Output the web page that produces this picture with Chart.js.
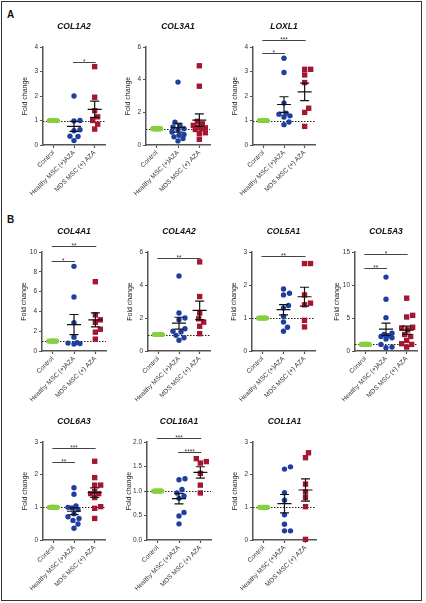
<!DOCTYPE html>
<html>
<head>
<meta charset="utf-8">
<script src="https://cdn.jsdelivr.net/npm/chart.js@4.4.0/dist/chart.umd.min.js"></script>
<style>
  body { margin: 0; background: #fff; }
  #fig { position: relative; width: 426px; height: 603px; overflow: hidden; font-family: 'Liberation Sans', Arial, sans-serif; }
  #frame { position: absolute; left: 1px; top: 1px; width: 419px; height: 598px; border: 1px solid #333; }
  .tag { position: absolute; font-weight: bold; font-size: 10px; line-height: 10px; color: #111; }
  canvas { position: absolute; }
</style>
</head>
<body>
<div id="fig">
  <div id="frame"></div>
  <div class="tag" style="left:7px; top:10px;">A</div>
  <div class="tag" style="left:7px; top:215px;">B</div>
</div>

<script>
// --- DATA ---
const groups = ['Control', 'Healthy MSC (+)AZA', 'MDS MSC (+) AZA'];
const genes = ['COL1A2', 'COL3A1', 'LOXL1', 'COL4A1', 'COL4A2', 'COL5A1', 'COL5A3', 'COL6A3', 'COL16A1', 'COL1A1'];

// y axis range per gene (tick labels)
const yMax  = [4, 6, 4, 10, 6, 3, 15, 3, 2, 3];
const yStep = [1, 2, 1, 2, 2, 1, 5, 1, 0.5, 1];
const yDecimals = [0, 0, 0, 0, 0, 0, 0, 0, 1, 0];

// fold change values per gene, one array per group
const col1a2Control = [1, 1, 1, 1, 1, 1, 1, 1];
const col1a2Healthy = [2.0, 1.0, 0.98, 0.62, 0.58, 0.36, 0.35, 0.18];
const col1a2Mds     = [3.2, 1.95, 1.4, 1.15, 1.0, 0.85, 0.65];

const col3a1Control = [1, 1, 1, 1, 1, 1, 1, 1, 1, 1, 1, 1];
const col3a1Healthy = [3.85, 1.4, 1.2, 1.1, 1.0, 0.95, 0.8, 0.65, 0.6, 0.5, 0.4, 0.25];
const col3a1Mds     = [4.85, 3.6, 1.45, 1.3, 1.2, 1.1, 1.05, 1.0, 0.95, 0.75, 0.7, 0.35];

const loxl1Control = [1, 1, 1, 1, 1, 1, 1, 1, 1];
const loxl1Healthy = [3.54, 2.96, 1.71, 1.3, 1.26, 1.19, 1.14, 0.94, 0.83];
const loxl1Mds     = [3.09, 3.09, 2.86, 2.55, 1.5, 1.33, 0.76];

const col4a1Control = [1, 1, 1, 1, 1, 1, 1, 1];
const col4a1Healthy = [8.55, 5.45, 2.85, 1.4, 0.85, 0.8, 0.75, 0.7];
const col4a1Mds     = [7.0, 3.65, 3.15, 2.9, 2.2, 1.9, 1.2];

const col4a2Control = [1, 1, 1, 1, 1, 1, 1, 1, 1, 1];
const col4a2Healthy = [4.55, 2.3, 2.0, 1.9, 1.35, 1.2, 1.15, 0.95, 0.8, 0.65];
const col4a2Mds     = [5.4, 3.3, 2.3, 1.95, 1.75, 1.5, 1.05];

const col5a1Control = [1, 1, 1, 1, 1, 1, 1, 1, 1];
const col5a1Healthy = [1.88, 1.75, 1.7, 1.38, 1.3, 1.05, 0.88, 0.72, 0.6];
const col5a1Mds     = [2.65, 2.65, 1.7, 1.45, 1.4, 0.93, 0.73];

const col5a3Control = [1, 1, 1, 1, 1, 1, 1, 1, 1, 1, 1, 1];
const col5a3Healthy = [11.2, 7.85, 5.05, 2.7, 2.5, 2.3, 2.2, 2.0, 1.8, 1.0, 0.6, 0.5];
const col5a3Mds     = [8.0, 5.4, 5.15, 3.6, 3.5, 3.2, 2.5, 2.2, 1.6, 1.1, 1.0, 0.6];

const col6a3Control = [1, 1, 1, 1, 1, 1, 1, 1, 1, 1, 1, 1];
const col6a3Healthy = [1.6, 1.4, 1.04, 1.0, 0.98, 0.93, 0.8, 0.71, 0.66, 0.6, 0.49, 0.36];
const col6a3Mds     = [2.41, 1.91, 1.68, 1.68, 1.48, 1.42, 1.42, 1.3, 1.02, 0.97, 0.66];

const col16a1Control = [1, 1, 1, 1, 1, 1, 1, 1, 1];
const col16a1Healthy = [1.25, 1.23, 1.03, 0.96, 0.9, 0.85, 0.56, 0.49, 0.33];
const col16a1Mds     = [1.66, 1.6, 1.57, 1.36, 1.12, 0.96];

const col1a1Control = [1, 1, 1, 1, 1, 1, 1, 1];
const col1a1Healthy = [2.24, 2.17, 1.45, 1.22, 0.77, 0.48, 0.28, 0.28];
const col1a1Mds     = [2.67, 2.52, 1.71, 1.47, 1.3, 1.02, 0.02];

const values = [
  [col1a2Control, col1a2Healthy, col1a2Mds],
  [col3a1Control, col3a1Healthy, col3a1Mds],
  [loxl1Control, loxl1Healthy, loxl1Mds],
  [col4a1Control, col4a1Healthy, col4a1Mds],
  [col4a2Control, col4a2Healthy, col4a2Mds],
  [col5a1Control, col5a1Healthy, col5a1Mds],
  [col5a3Control, col5a3Healthy, col5a3Mds],
  [col6a3Control, col6a3Healthy, col6a3Mds],
  [col16a1Control, col16a1Healthy, col16a1Mds],
  [col1a1Control, col1a1Healthy, col1a1Mds]
];

// significance brackets: [from group, to group, height (fold change), stars]
const significance = [
  [[1, 2, 3.4, '*']],
  [],
  [[0, 2, 4.29, '***'], [0, 1, 3.76, '*']],
  [[0, 2, 10.6, '**'], [0, 1, 9.1, '*']],
  [[0, 2, 5.64, '**']],
  [[0, 2, 2.88, '**']],
  [[0, 2, 14.7, '*'], [0, 1, 12.6, '**']],
  [[0, 2, 2.81, '***'], [0, 1, 2.39, '**']],
  [[0, 2, 2.08, '***'], [1, 2, 1.8, '****']],
  []
];

// --- LAYOUT (pixel placement of each panel) ---
const panels = [
  { axisX: 43,  yTop: 47,  plotH: 98, xEnd: 105 },
  { axisX: 146, yTop: 47,  plotH: 98, xEnd: 210 },
  { axisX: 253, yTop: 47,  plotH: 98, xEnd: 315 },
  { axisX: 42,  yTop: 252, plotH: 99, xEnd: 106 },
  { axisX: 148, yTop: 252, plotH: 99, xEnd: 210 },
  { axisX: 252, yTop: 252, plotH: 99, xEnd: 315 },
  { axisX: 355, yTop: 252, plotH: 99, xEnd: 417 },
  { axisX: 43,  yTop: 442, plotH: 98, xEnd: 105 },
  { axisX: 147, yTop: 442, plotH: 98, xEnd: 211 },
  { axisX: 253, yTop: 442, plotH: 98, xEnd: 316 }
];
const AXIS_W = 40, TOP_PAD = 42, RIGHT_PAD = 12, X_AXIS_H = 60;

const colors = ['#86cf3e', '#1f3f9f', '#a51631'];
const pointStyles = ['circle', 'circle', 'rect'];
const pointRadii = [2.6, 2.7, 3.8];
const swarmWidth = [4, 6, 6];   // max horizontal spread (px) per group
const FONT = "'Liberation Sans', Arial, sans-serif";

// simple beeswarm: horizontal pixel offsets so that dots with close values sit side by side
function swarmOffsets(vals, pxPerUnit, maxOff) {
  const placed = [];
  const offs = new Array(vals.length).fill(0);
  const cands = [0];
  for (let k = 1; k <= maxOff; k++) cands.push(k, -k);
  const order = vals.map((v, i) => i).sort((a, b) => vals[a] - vals[b]);
  order.forEach(i => {
    const py = vals[i] * pxPerUnit;
    let best = 0, bestDist = -1;
    for (const c of cands) {
      let m = Infinity;
      placed.forEach(p => { m = Math.min(m, Math.hypot(p.x - c, p.y - py)); });
      if (m >= 5.5) { best = c; break; }
      if (m > bestDist) { bestDist = m; best = c; }
    }
    placed.push({ x: best, y: py });
    offs[i] = best;
  });
  return offs;
}

function meanSem(arr) {
  const n = arr.length;
  const mean = arr.reduce((s, v) => s + v, 0) / n;
  const sd = Math.sqrt(arr.reduce((s, v) => s + (v - mean) * (v - mean), 0) / (n - 1));
  return [mean, sd / Math.sqrt(n)];
}

// draws reference line, mean ± SEM, brackets and gene title
const panelPlugin = {
  id: 'panel',
  beforeDatasetsDraw(chart, args, opts) {
    const { ctx, chartArea, scales: { y } } = chart;
    const py = Math.round(y.getPixelForValue(1)) + 0.5;
    ctx.save();
    ctx.strokeStyle = '#222';
    ctx.lineWidth = 1;
    ctx.setLineDash([1.5, 1.5]);
    ctx.beginPath();
    ctx.moveTo(chartArea.left, py);
    ctx.lineTo(chartArea.right, py);
    ctx.stroke();
    ctx.restore();
  },
  afterDatasetsDraw(chart, args, opts) {
    const { ctx, chartArea, scales: { x, y } } = chart;
    ctx.save();
    // mean and SEM for treated groups
    ctx.strokeStyle = '#111';
    ctx.lineWidth = 1.2;
    [1, 2].forEach(g => {
      const [m, sem] = meanSem(opts.groupValues[g]);
      const cx = x.getPixelForValue(g + 0.5);
      const pm = y.getPixelForValue(m);
      const ph = y.getPixelForValue(m + sem);
      const pl = y.getPixelForValue(m - sem);
      ctx.beginPath();
      ctx.moveTo(cx - 7, pm); ctx.lineTo(cx + 7, pm);
      ctx.moveTo(cx - 4.5, ph); ctx.lineTo(cx + 4.5, ph);
      ctx.moveTo(cx - 4.5, pl); ctx.lineTo(cx + 4.5, pl);
      ctx.moveTo(cx, ph); ctx.lineTo(cx, pl);
      ctx.stroke();
    });
    // significance brackets
    ctx.strokeStyle = '#444';
    ctx.fillStyle = '#333';
    ctx.lineWidth = 1;
    ctx.font = '6.5px ' + FONT;
    ctx.textAlign = 'center';
    ctx.textBaseline = 'alphabetic';
    opts.sig.forEach(([a, b, h, stars]) => {
      const x1 = x.getPixelForValue(a + 0.5) - 1;
      const x2 = x.getPixelForValue(b + 0.5) + 1;
      const py = Math.round(y.getPixelForValue(h)) + 0.5;
      ctx.beginPath();
      ctx.moveTo(x1, py); ctx.lineTo(x2, py);
      ctx.stroke();
      ctx.fillText(stars, (x1 + x2) / 2, py + 1);
    });
    // gene title
    ctx.fillStyle = '#111';
    ctx.font = 'italic bold 8.5px ' + FONT;
    ctx.textBaseline = 'middle';
    ctx.fillText(opts.title, (chartArea.left + chartArea.right) / 2, chartArea.top - 20);
    ctx.restore();
  }
};

const fig = document.getElementById('fig');

genes.forEach((gene, gi) => {
  const p = panels[gi];
  const w = AXIS_W + (p.xEnd - p.axisX) + RIGHT_PAD;
  const h = TOP_PAD + p.plotH + X_AXIS_H;
  const canvas = document.createElement('canvas');
  canvas.width = w;
  canvas.height = h;
  canvas.style.left = (p.axisX - AXIS_W) + 'px';
  canvas.style.top = (p.yTop - TOP_PAD) + 'px';
  canvas.style.width = w + 'px';
  canvas.style.height = h + 'px';
  fig.appendChild(canvas);

  const pxPerUnit = p.plotH / yMax[gi];
  const pxPerCat = (p.xEnd - p.axisX) / 3;

  const datasets = values[gi].map((vals, g) => {
    const offs = swarmOffsets(vals, pxPerUnit, swarmWidth[g]);
    return {
      label: groups[g],
      data: vals.map((v, i) => ({ x: g + 0.5 + offs[i] / pxPerCat, y: v })),
      pointStyle: pointStyles[g],
      pointRadius: pointRadii[g],
      backgroundColor: colors[g],
      borderColor: colors[g],
      borderWidth: 0,
      clip: false
    };
  });

  new Chart(canvas, {
    type: 'scatter',
    data: { datasets },
    plugins: [panelPlugin],
    options: {
      responsive: false,
      animation: false,
      events: [],
      layout: { padding: { top: TOP_PAD, right: RIGHT_PAD, bottom: 0, left: 0 } },
      plugins: {
        legend: { display: false },
        tooltip: { enabled: false },
        panel: { title: gene, sig: significance[gi], groupValues: values[gi] }
      },
      scales: {
        x: {
          type: 'linear',
          min: 0,
          max: 3,
          afterBuildTicks: s => { s.ticks = [0.5, 1.5, 2.5].map(v => ({ value: v })); },
          afterFit: s => { s.height = X_AXIS_H; },
          border: { color: '#555', width: 1.5 },
          grid: { drawOnChartArea: false, drawTicks: true, tickLength: 3, tickColor: '#555', tickWidth: 1.2 },
          ticks: {
            minRotation: 45,
            maxRotation: 45,
            padding: 1,
            color: '#333',
            font: { size: 6.5, family: FONT },
            callback: v => groups[Math.floor(v)]
          }
        },
        y: {
          min: 0,
          max: yMax[gi],
          afterFit: s => { s.width = AXIS_W; },
          border: { color: '#555', width: 1.5 },
          grid: { drawOnChartArea: false, drawTicks: true, tickLength: 3, tickColor: '#555', tickWidth: 1.2 },
          ticks: {
            stepSize: yStep[gi],
            padding: 2,
            color: '#333',
            font: { size: 6.5, family: FONT },
            callback: v => v.toFixed(yDecimals[gi])
          },
          title: {
            display: true,
            text: 'Fold change',
            color: '#222',
            font: { size: 7, family: "'Liberation Sans Narrow', " + FONT },
            padding: { top: 18, bottom: 0 }
          }
        }
      }
    }
  });
});
</script>
</body>
</html>
